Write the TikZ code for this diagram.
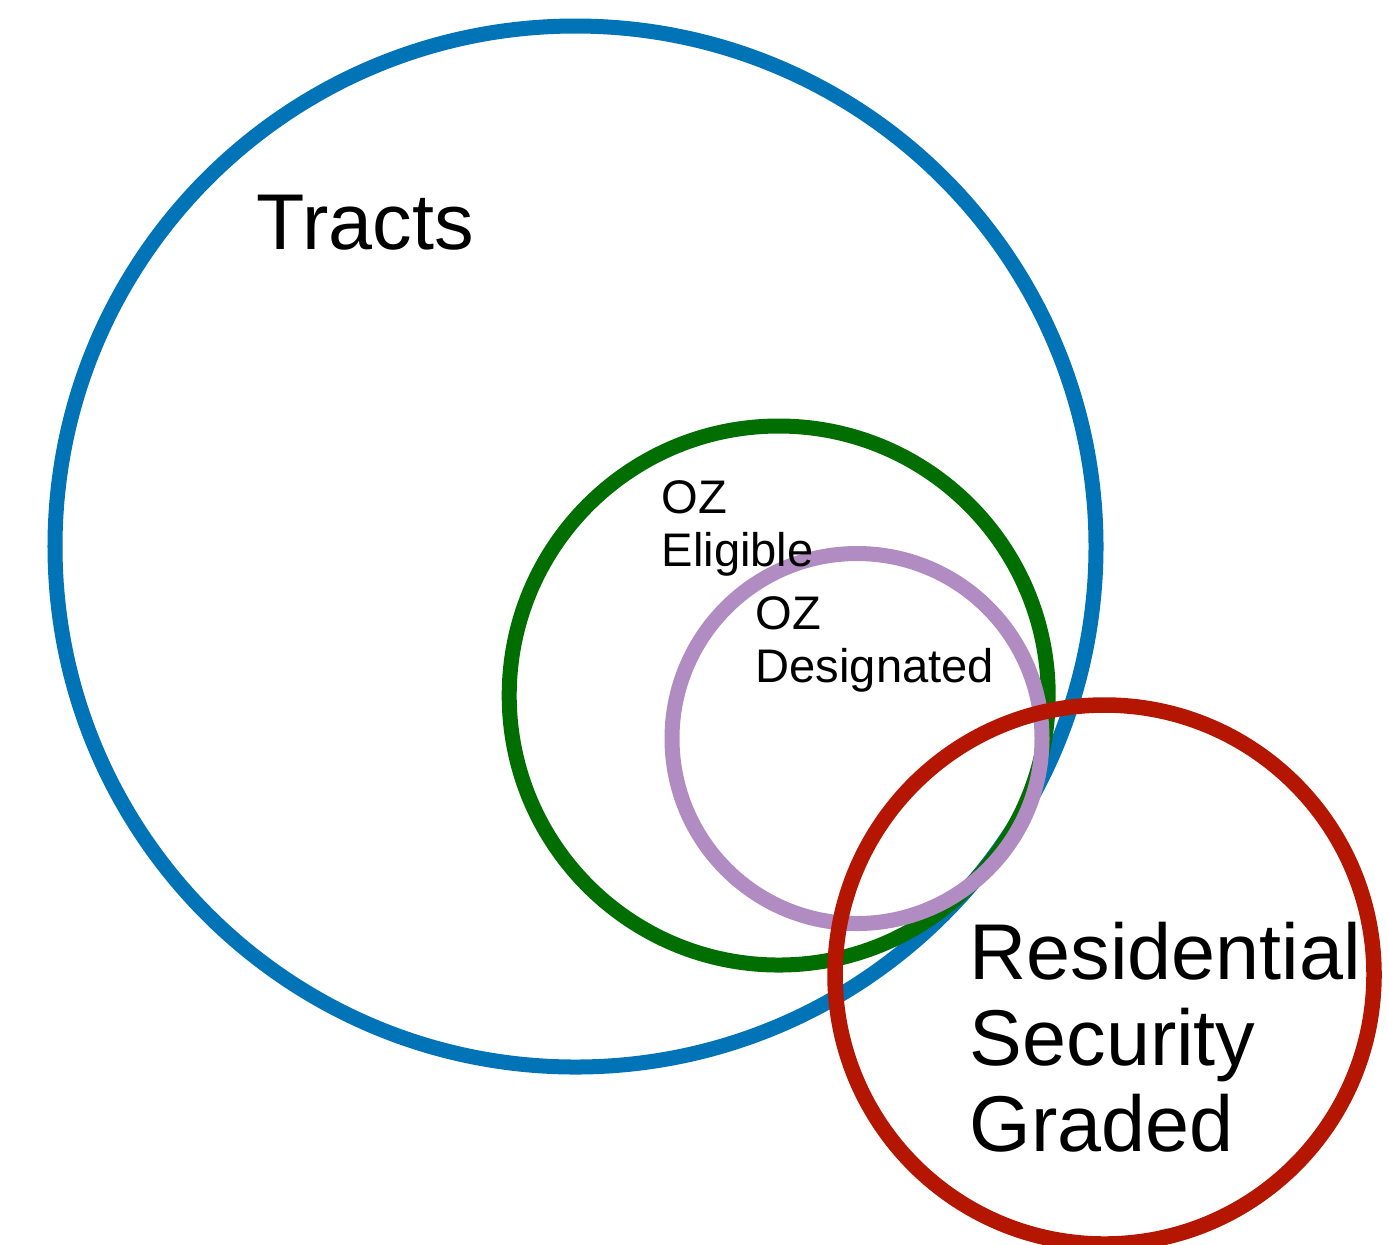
\documentclass[tikz,border=0pt]{standalone}
\usepackage{fontspec}
\setmainfont{Liberation Sans}
\definecolor{tractblue}{RGB}{1,115,183}
\definecolor{eligiblegreen}{RGB}{0,110,0}
\definecolor{designatedpurple}{RGB}{176,140,194}
\definecolor{gradedred}{RGB}{180,22,2}

\begin{document}
\begin{tikzpicture}
		[x=0.01cm,y=-0.01cm,
		every node/.style={inner sep=0pt,anchor=base west,align=left},
		big/.style={font=\fontsize{22.5}{24.4}\selectfont},
		small/.style={font=\fontsize{13.4}{14.8}\selectfont}]
		\useasboundingbox (0,0) rectangle (1388,1244);
		
		\foreach \col/\cx/\cy/\r in {tractblue/575.5/546.5/520.5,eligiblegreen/778.7/695.5/269.5,designatedpurple/857/738.5/185}
		\draw[\col,line width=0.15cm] (\cx,\cy) circle [radius=\r*0.01cm];
		
		\node[big] (tracts) at (256,249) {Tracts};
		\node[small] (eligible) at (661,566) {OZ\\Eligible};
		\node[small] (designated) at (755,682) {OZ\\Designated};
		
		\draw[gradedred,line width=0.155cm] (1104.5,974.5) circle [radius=269.5*0.01cm];
		\node[big] (graded) at (969,1151) {Residential\\Security\\Graded};
		\end{tikzpicture}
\end{document}
